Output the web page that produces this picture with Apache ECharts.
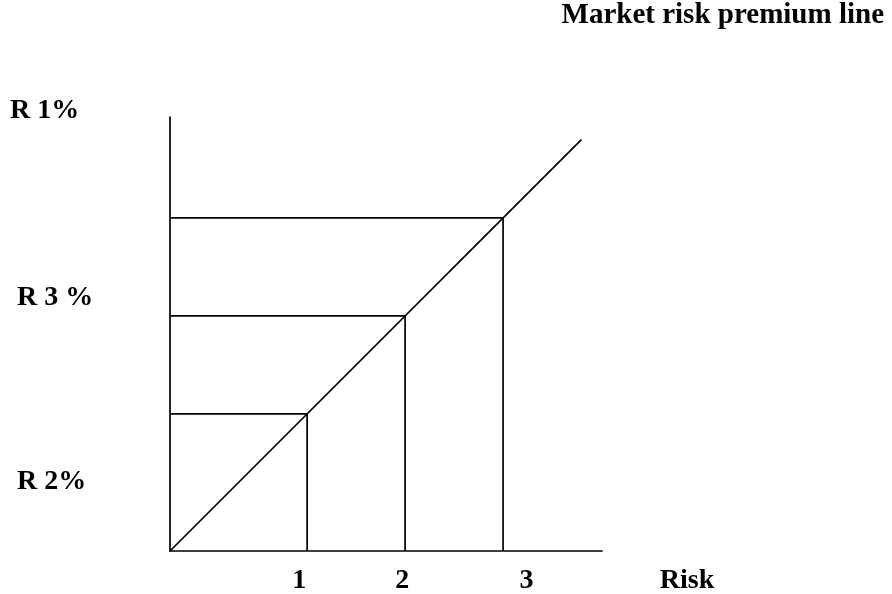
<!DOCTYPE html>
<html><head><meta charset="utf-8">
<script src="https://cdn.jsdelivr.net/npm/echarts@6/dist/echarts.min.js"></script>
<style>html,body{margin:0;padding:0;background:#fff}#c{width:892px;height:594px}</style>
</head><body><div id="c"></div>
<script>
// Data (risk units)
const riskPoints = [1.4, 2.4, 3.4];        // where the drop lines meet the diagonal
const returnPoints = [1.4, 2.4, 3.4];
const lineEnd = [4.2, 4.2];                  // end of the market risk premium line
const xMax = 4.41, yMax = 4.43;
const xTickLabels = ['1', '2', '3'];
const xTickLabelPos = [1.32, 2.37, 3.64];
const xAxisName = 'Risk';
const yLabels = ['R 1%', 'R 3 %', 'R 2%'];
const titleText = 'Market risk premium line';

const FONT = "'Liberation Serif','Times New Roman',serif";
const lineStyle = {color: '#000', width: 1.7};
const series = [];
series.push({type: 'line', data: [[0, 0], lineEnd], symbol: 'none', lineStyle, silent: true});
riskPoints.forEach((x, i) => {
  const y = returnPoints[i];
  series.push({type: 'line', data: [[0, y], [x, y]], symbol: 'none', lineStyle, silent: true});
  series.push({type: 'line', data: [[x, 0], [x, y]], symbol: 'none', lineStyle, silent: true});
});

const chart = echarts.init(document.getElementById('c'));
chart.setOption({
  animation: false,
  grid: {left: 170, right: 290, top: 117, bottom: 43},
  xAxis: {type: 'value', min: 0, max: xMax, axisLine: {show: true, lineStyle: {color: '#000', width: 1.7}},
          axisTick: {show: false}, axisLabel: {show: false}, splitLine: {show: false}},
  yAxis: {type: 'value', min: 0, max: yMax, axisLine: {show: true, lineStyle: {color: '#000', width: 1.7}},
          axisTick: {show: false}, axisLabel: {show: false}, splitLine: {show: false}},
  series
});

const txt = (text, x, y, align, size) => ({type: 'text', x, y, silent: true,
  style: {text, fill: '#000', font: "bold " + (size || 28) + "px " + FONT, textAlign: align || 'left', textVerticalAlign: 'middle'}});
const g = [];
g.push(txt(titleText, 884, 16, 'right', 29));
xTickLabels.forEach((t, i) => {
  const p = chart.convertToPixel({gridIndex: 0}, [xTickLabelPos[i], 0]);
  g.push(txt(t, p[0], 581, 'center'));
});
g.push(txt(xAxisName, 687, 581, 'center'));
g.push(txt(yLabels[0], 10, 111));
g.push(txt(yLabels[1], 17, 298));
g.push(txt(yLabels[2], 17, 482));
chart.setOption({graphic: g});
</script></body></html>
